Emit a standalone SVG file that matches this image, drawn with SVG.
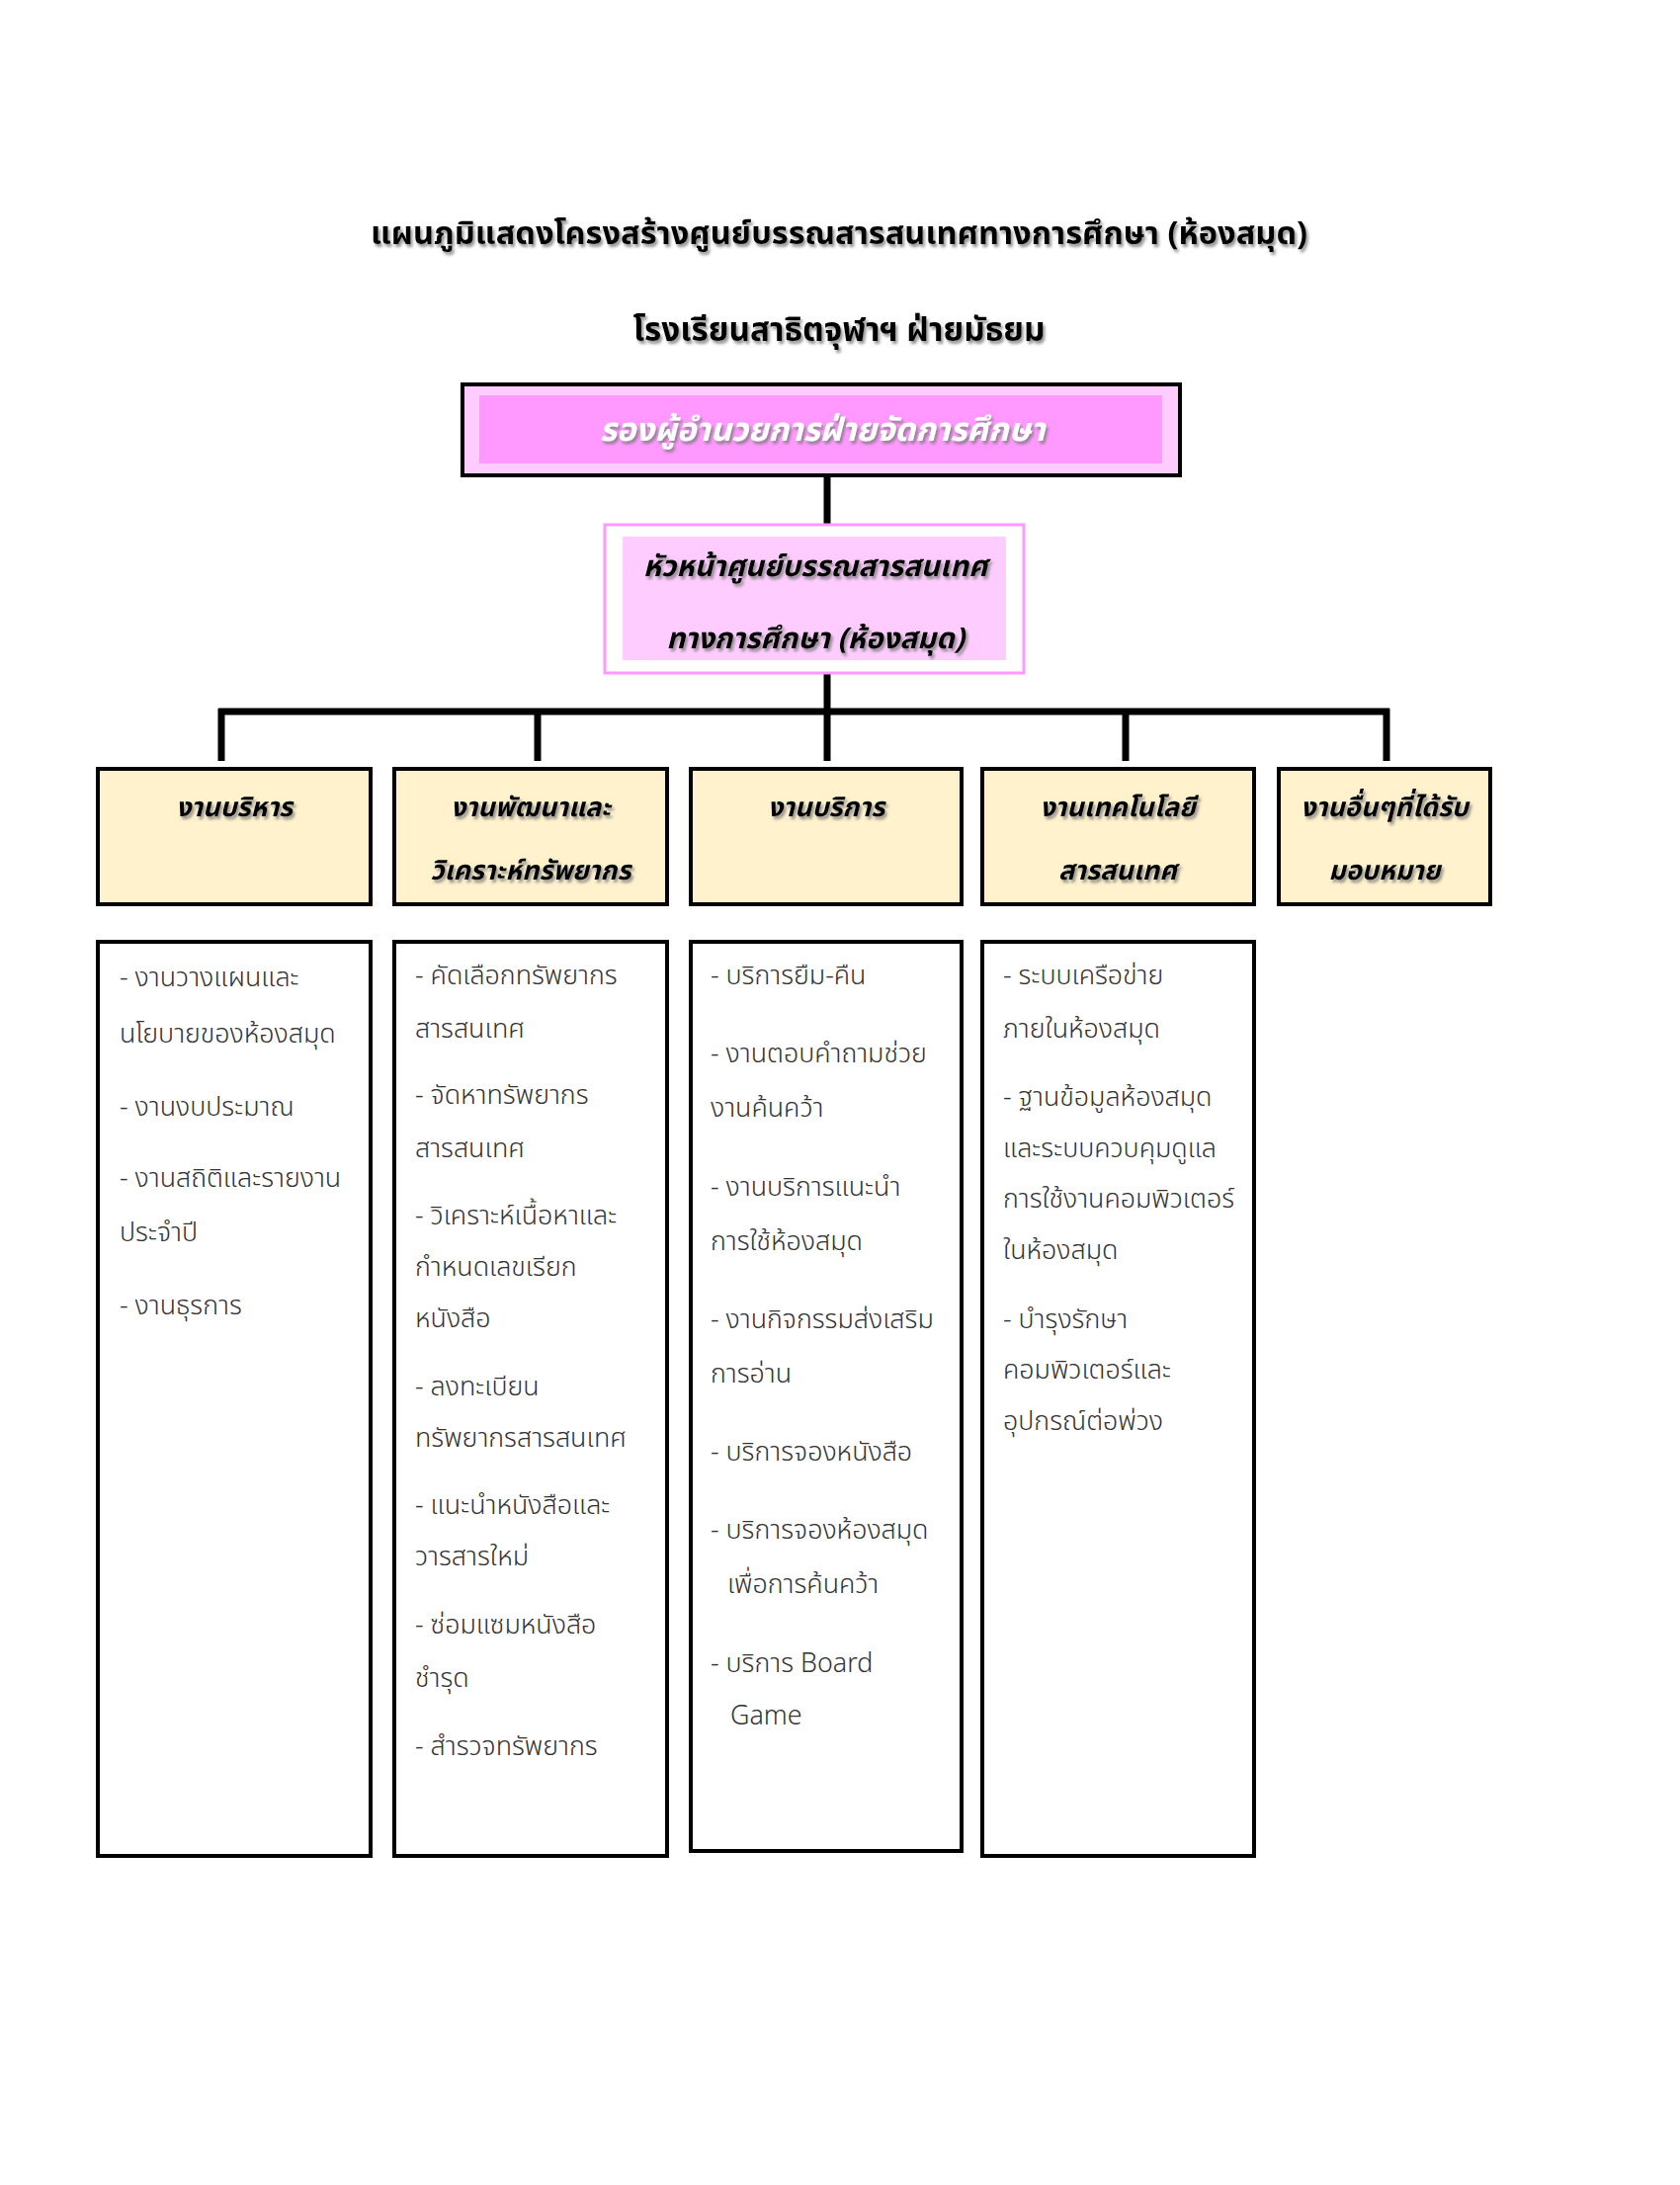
<svg xmlns="http://www.w3.org/2000/svg" width="1700" height="2211" viewBox="0 0 1700 2211">
<defs>
<filter id="sh" x="-10%" y="-30%" width="120%" height="160%"><feDropShadow dx="2" dy="3" stdDeviation="1.5" flood-color="#777" flood-opacity="0.8"/></filter>
</defs>
<style>
.t{font-family:"Noto Sans Thai","Noto Sans","Liberation Sans",sans-serif;}
.title{font-weight:bold;fill:#000;text-anchor:middle;}
.hd{font-weight:bold;font-style:italic;text-anchor:middle;}
.lb{font-size:27px;font-weight:bold;font-style:italic;fill:#000;text-anchor:middle;}
.li{font-size:26.8px;font-weight:300;fill:#333;}
.cat{fill:#FFF2CC;stroke:#000;stroke-width:4;}
.list{fill:#fff;stroke:#000;stroke-width:4;}
.con{stroke:#000;stroke-width:7;fill:none;}
</style>
<rect width="1700" height="2211" fill="#fff"/>
<g id="title" class="t">
<text class="title" x="849" y="247" font-size="32.6" filter="url(#sh)">แผนภูมิแสดงโครงสร้างศูนย์บรรณสารสนเทศทางการศึกษา (ห้องสมุด)</text>
<text class="title" x="849" y="345" font-size="33.3" filter="url(#sh)">โรงเรียนสาธิตจุฬาฯ ฝ่ายมัธยม</text>
</g>
<g id="connectors">
<line class="con" x1="837" y1="481" x2="837" y2="530"/>
<line class="con" x1="837" y1="681" x2="837" y2="770"/>
<line class="con" x1="221" y1="720" x2="1406" y2="720"/>
<line class="con" x1="224" y1="717" x2="224" y2="770"/>
<line class="con" x1="544" y1="717" x2="544" y2="770"/>
<line class="con" x1="1139" y1="717" x2="1139" y2="770"/>
<line class="con" x1="1403" y1="717" x2="1403" y2="770"/>
</g>
<g id="n-deputy">
<rect x="468" y="389" width="726" height="92" fill="#FFCCFF" stroke="#000" stroke-width="4"/>
<rect x="485" y="400" width="691" height="69" fill="#FF99FF"/>
<text class="t hd" x="832" y="446" font-size="33" fill="#fff" filter="url(#sh)">รองผู้อำนวยการฝ่ายจัดการศึกษา</text>
</g>
<g id="n-head">
<rect x="612" y="531" width="424" height="150" fill="#fff" stroke="#FF99FF" stroke-width="3"/>
<rect x="630" y="543" width="388" height="125" fill="#FFCCFF"/>
<text class="t hd" x="825" y="583" font-size="29.5" fill="#000" filter="url(#sh)">หัวหน้าศูนย์บรรณสารสนเทศ</text>
<text class="t hd" x="825" y="656" font-size="29.5" fill="#000" filter="url(#sh)">ทางการศึกษา (ห้องสมุด)</text>
</g>
<g id="n-admin">
<rect class="cat" x="99" y="778" width="276" height="137"/>
<text class="t lb" x="237" y="826" filter="url(#sh)">งานบริหาร</text>
</g>
<g id="n-dev">
<rect class="cat" x="399" y="778" width="276" height="137"/>
<text class="t lb" x="537" y="826" filter="url(#sh)">งานพัฒนาและ</text>
<text class="t lb" x="537" y="890" filter="url(#sh)">วิเคราะห์ทรัพยากร</text>
</g>
<g id="n-service">
<rect class="cat" x="699" y="778" width="274" height="137"/>
<text class="t lb" x="836" y="826" filter="url(#sh)">งานบริการ</text>
</g>
<g id="n-tech">
<rect class="cat" x="994" y="778" width="275" height="137"/>
<text class="t lb" x="1131" y="826" filter="url(#sh)">งานเทคโนโลยี</text>
<text class="t lb" x="1131" y="890" filter="url(#sh)">สารสนเทศ</text>
</g>
<g id="n-other">
<rect class="cat" x="1294" y="778" width="214" height="137"/>
<text class="t lb" x="1401" y="826" filter="url(#sh)">งานอื่นๆที่ได้รับ</text>
<text class="t lb" x="1401" y="890" filter="url(#sh)">มอบหมาย</text>
</g>
<g id="l-admin" class="t">
<rect class="list" x="99" y="953" width="276" height="925"/>
<text class="li" x="121" y="998">- งานวางแผนและ</text>
<text class="li" x="121" y="1055">นโยบายของห้องสมุด</text>
<text class="li" x="121" y="1129">- งานงบประมาณ</text>
<text class="li" x="121" y="1201">- งานสถิติและรายงาน</text>
<text class="li" x="121" y="1256">ประจำปี</text>
<text class="li" x="121" y="1330">- งานธุรการ</text>
</g>
<g id="l-dev" class="t">
<rect class="list" x="399" y="953" width="276" height="925"/>
<text class="li" x="420" y="996">- คัดเลือกทรัพยากร</text>
<text class="li" x="420" y="1050">สารสนเทศ</text>
<text class="li" x="420" y="1117">- จัดหาทรัพยากร</text>
<text class="li" x="420" y="1171">สารสนเทศ</text>
<text class="li" x="420" y="1239">- วิเคราะห์เนื้อหาและ</text>
<text class="li" x="420" y="1291">กำหนดเลขเรียก</text>
<text class="li" x="420" y="1343">หนังสือ</text>
<text class="li" x="420" y="1412">- ลงทะเบียน</text>
<text class="li" x="420" y="1464">ทรัพยากรสารสนเทศ</text>
<text class="li" x="420" y="1532">- แนะนำหนังสือและ</text>
<text class="li" x="420" y="1584">วารสารใหม่</text>
<text class="li" x="420" y="1653">- ซ่อมแซมหนังสือ</text>
<text class="li" x="420" y="1707">ชำรุด</text>
<text class="li" x="420" y="1776">- สำรวจทรัพยากร</text>
</g>
<g id="l-service" class="t">
<rect class="list" x="699" y="953" width="274" height="920"/>
<text class="li" x="719" y="996">- บริการยืม-คืน</text>
<text class="li" x="719" y="1075">- งานตอบคำถามช่วย</text>
<text class="li" x="719" y="1130">งานค้นคว้า</text>
<text class="li" x="719" y="1210">- งานบริการแนะนำ</text>
<text class="li" x="719" y="1265">การใช้ห้องสมุด</text>
<text class="li" x="719" y="1344">- งานกิจกรรมส่งเสริม</text>
<text class="li" x="719" y="1399">การอ่าน</text>
<text class="li" x="719" y="1478">- บริการจองหนังสือ</text>
<text class="li" x="719" y="1557">- บริการจองห้องสมุด</text>
<text class="li" x="736" y="1612">เพื่อการค้นคว้า</text>
<text class="li" x="719" y="1692">- บริการ Board</text>
<text class="li" x="739" y="1745">Game</text>
</g>
<g id="l-tech" class="t">
<rect class="list" x="994" y="953" width="275" height="925"/>
<text class="li" x="1015" y="996">- ระบบเครือข่าย</text>
<text class="li" x="1015" y="1050">ภายในห้องสมุด</text>
<text class="li" x="1015" y="1119">- ฐานข้อมูลห้องสมุด</text>
<text class="li" x="1015" y="1171">และระบบควบคุมดูแล</text>
<text class="li" x="1015" y="1222">การใช้งานคอมพิวเตอร์</text>
<text class="li" x="1015" y="1274">ในห้องสมุด</text>
<text class="li" x="1015" y="1344">- บำรุงรักษา</text>
<text class="li" x="1015" y="1395">คอมพิวเตอร์และ</text>
<text class="li" x="1015" y="1447">อุปกรณ์ต่อพ่วง</text>
</g>
</svg>
